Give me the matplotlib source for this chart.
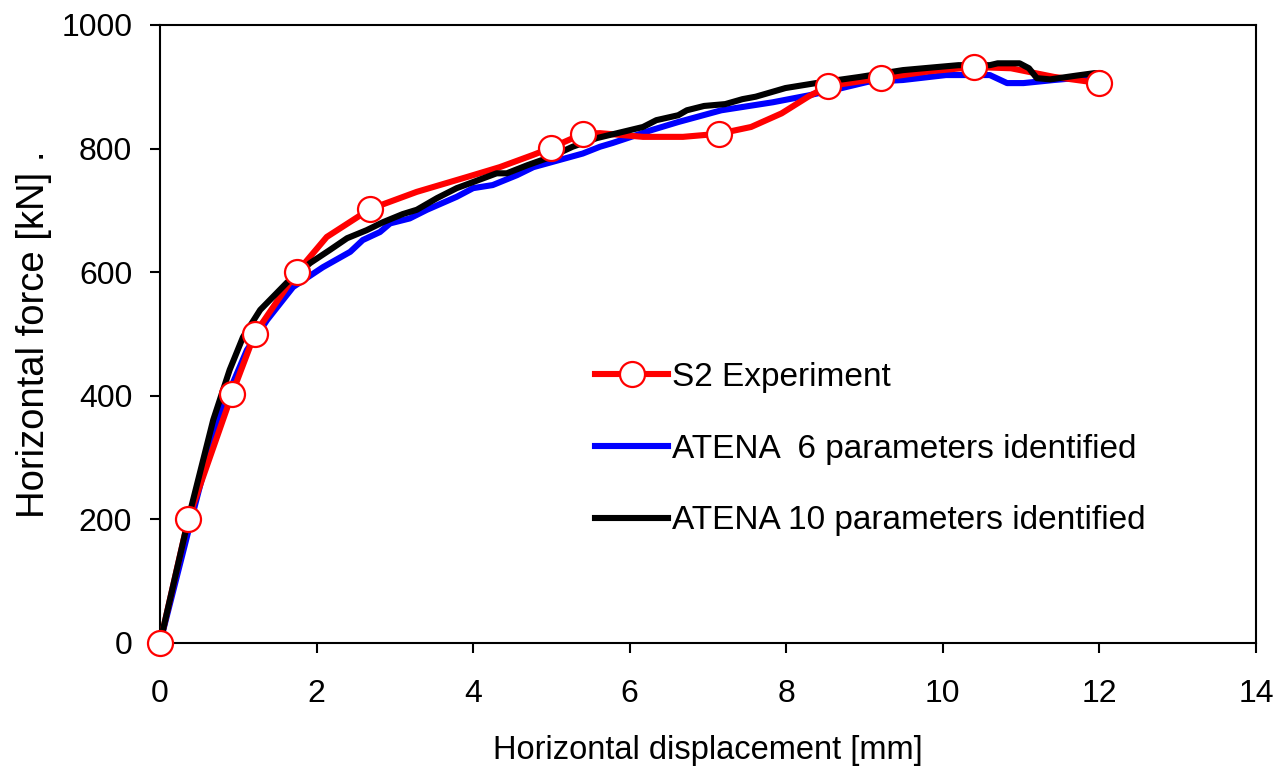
import matplotlib
matplotlib.use("Agg")
import matplotlib.pyplot as plt
from matplotlib.lines import Line2D

plt.rcParams['font.family'] = ['Liberation Sans', 'DejaVu Sans']

# S2 Experiment (line points; markers at selected points)
exp_x = [0.0, 0.36, 0.92, 1.21, 1.75, 2.13, 2.68, 3.28, 3.92, 4.34, 4.77, 4.99, 5.40, 5.62, 6.17, 6.68, 7.14, 7.55, 7.94, 8.28, 8.53, 9.21, 9.82, 10.40, 10.87, 11.42, 12.0]
exp_y = [0, 200, 403, 500, 600, 657, 702, 730, 754, 770, 790, 801, 824, 825, 819, 819, 824, 835, 857, 884, 901, 914, 925, 932, 930, 916, 906]
exp_marker_idx = [0, 1, 2, 3, 4, 6, 11, 12, 16, 20, 21, 23, 26]

# ATENA 6 parameters identified
a6_x = [0.0, 0.40, 0.73, 1.11, 1.37, 1.70, 2.08, 2.43, 2.59, 2.81, 2.94, 3.19, 3.41, 3.79, 4.00, 4.25, 4.56, 4.77, 5.40, 5.62, 5.78, 6.28, 6.62, 7.17, 7.83, 8.28, 8.71, 9.04, 9.49, 10.04, 10.60, 10.82, 11.03, 11.42, 11.86, 12.0]
a6_y = [0, 200, 361, 474, 523, 576, 608, 633, 652, 665, 679, 687, 701, 722, 736, 741, 757, 770, 792, 803, 809, 830, 843, 862, 875, 886, 898, 908, 911, 919, 919, 906, 906, 911, 916, 917]

# ATENA 10 parameters identified
a10_x = [0.0, 0.38, 0.68, 0.89, 1.06, 1.28, 1.62, 1.92, 2.17, 2.39, 2.64, 2.85, 3.10, 3.28, 3.54, 3.79, 3.96, 4.13, 4.30, 4.43, 4.69, 4.98, 5.27, 5.58, 6.17, 6.34, 6.62, 6.73, 6.95, 7.22, 7.44, 7.61, 7.99, 8.38, 8.94, 9.49, 9.93, 10.20, 10.60, 10.70, 10.98, 11.10, 11.20, 11.37, 11.70, 11.93, 12.0]
a10_y = [0, 210, 361, 442, 495, 539, 583, 615, 636, 655, 668, 681, 694, 701, 720, 736, 744, 752, 760, 760, 773, 786, 803, 817, 835, 846, 854, 862, 869, 872, 880, 884, 898, 906, 916, 927, 932, 935, 935, 938, 938, 930, 914, 912, 918, 922, 922]

labels = ["S2 Experiment", "ATENA  6 parameters identified", "ATENA 10 parameters identified"]
xticks = [0, 2, 4, 6, 8, 10, 12, 14]
yticks = [0, 200, 400, 600, 800, 1000]

fig = plt.figure(figsize=(12.79, 7.71), dpi=100)
ax = fig.add_axes([160/1279, 1 - 643/771, (1256-160)/1279, (643-25)/771])

lw = 4.4
ms = 18
ax.plot(a6_x, a6_y, color='#0000ff', lw=lw, zorder=2, solid_joinstyle='round')
ax.plot(exp_x, exp_y, color='#ff0000', lw=lw, zorder=3, solid_joinstyle='round')
ax.plot(a10_x, a10_y, color='#000000', lw=lw, zorder=4, solid_joinstyle='round')
ax.plot([exp_x[i] for i in exp_marker_idx], [exp_y[i] for i in exp_marker_idx],
        ls='none', marker='o', ms=ms, mfc='white', mec='#ff0000', mew=1.6, zorder=5, clip_on=False)

ax.set_xlim(0, 14)
ax.set_ylim(0, 1000)
ax.set_xticks(xticks)
ax.set_yticks(yticks)
ax.tick_params(axis='both', direction='out', length=7, width=1.5, labelsize=23)
ax.tick_params(axis='x', pad=19)
ax.tick_params(axis='y', pad=13)
for s in ax.spines.values():
    s.set_linewidth(1.5)

ax.set_xlabel("Horizontal displacement [mm]", fontsize=23.5, labelpad=19)
ax.set_ylabel("Horizontal force [kN] .", fontsize=27.5)
ax.yaxis.set_label_coords((52 - 160) / 1096, 0.5)

handles = [
    Line2D([], [], color='#ff0000', lw=lw, marker='o', ms=ms, mfc='white', mec='#ff0000', mew=1.6),
    Line2D([], [], color='#0000ff', lw=lw),
    Line2D([], [], color='#000000', lw=lw),
]
leg = ax.legend(handles, labels, loc='upper left', bbox_to_anchor=((595-160)/1096, 1 - (362-25)/618),
                frameon=False, fontsize=24, handlelength=2.2, handletextpad=0.12,
                labelspacing=1.22, borderpad=0, borderaxespad=0)

fig.savefig("out.png", dpi=100)
